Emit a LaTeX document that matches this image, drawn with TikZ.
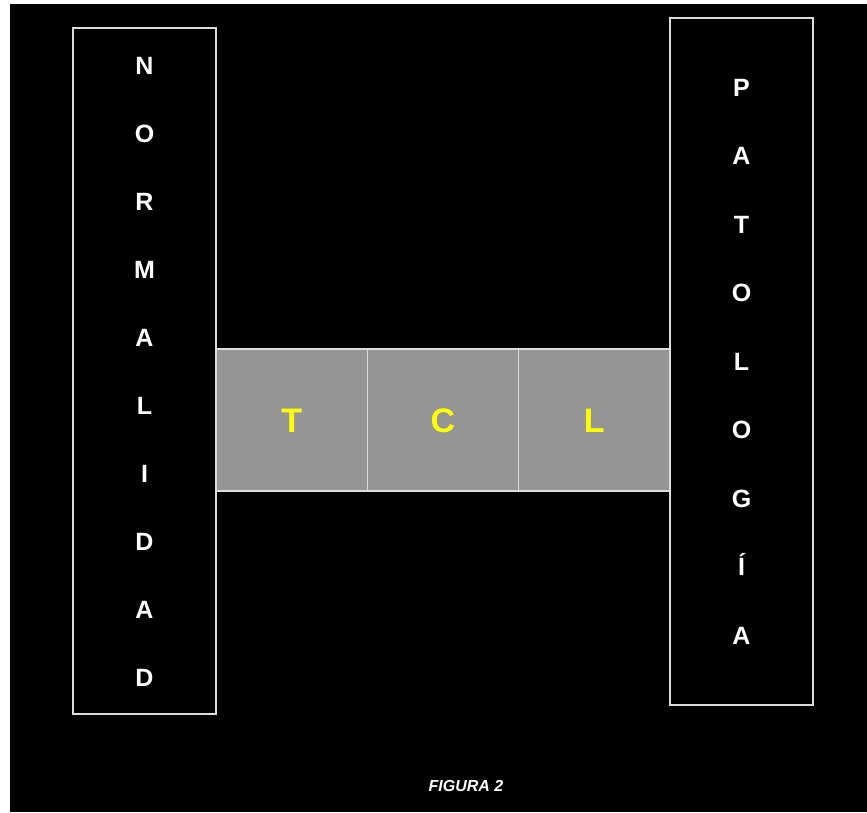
\documentclass[tikz,border=0pt]{standalone}
\usepackage{fontspec}
\setmainfont{Liberation Sans}
\definecolor{framegray}{HTML}{DCDCDC}
\definecolor{cellgray}{HTML}{959595}
\definecolor{tclyellow}{HTML}{FFFF00}
\begin{document}
\begin{tikzpicture}[x=1pt,y=-1pt,
  sidebox/.style={draw=framegray, line width=1.6pt, inner sep=0pt, outer sep=0pt, minimum width=143pt},
  cellbox/.style={draw=framegray, fill=cellgray, line width=1.6pt, inner sep=0pt, outer sep=0pt, minimum width=151.33pt, minimum height=142pt},
  sideletter/.style={text=white, font=\fontsize{25}{25}\selectfont\bfseries, anchor=base, inner sep=0pt},
  midletter/.style={text=tclyellow, font=\fontsize{34}{34}\selectfont\bfseries, anchor=base, inner sep=0pt},
  caption/.style={text=white, font=\fontsize{16}{16}\selectfont\bfseries\itshape, inner sep=0pt}]
\useasboundingbox (0,0) rectangle (867,812);
\fill[white] (0,0) rectangle (867,812);
\fill[black] (10,4) rectangle (867,812);
% side boxes
\node[sidebox, minimum height=686pt] (left) at (144.5,371) {};
\node[sidebox, minimum height=687pt] (right) at (741.5,361.5) {};
% middle cells
\node[cellbox] (cT) at (291.67,420) {};
\node[cellbox] (cC) at (443,420) {};
\node[cellbox] (cL) at (594.33,420) {};
\node[midletter] (tT) at (291.67,432) {T};
\node[midletter] (tC) at (443,432) {C};
\node[midletter] (tL) at (594.33,432) {L};
% left letters
\foreach \ch [count=\i from 0] in {N,O,R,M,A,L,I,D,A,D}
  \node[sideletter] (nl\i) at (144.5,{65+68*\i+9}) {\ch};
% right letters
\foreach \ch [count=\i from 0] in {P,A,T,O,L,O,G,Í,A}
  \node[sideletter] (pl\i) at (741.5,{87+68.5*\i+9}) {\ch};
\node[caption] (cap) at (466,786) {FIGURA 2};
\end{tikzpicture}
\end{document}
